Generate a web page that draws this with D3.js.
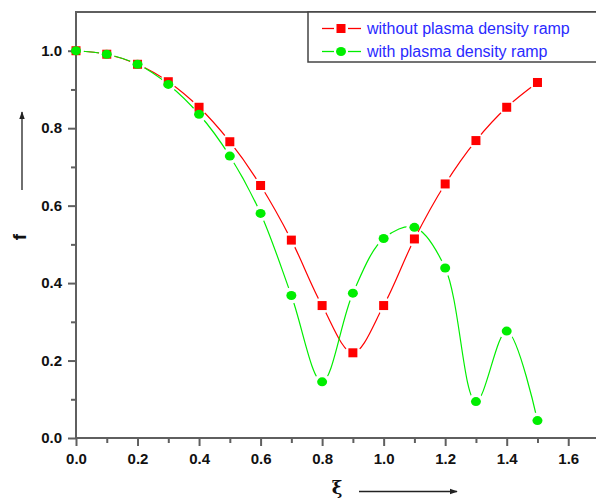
<!DOCTYPE html>
<html>
<head>
<meta charset="utf-8">
<script src="https://cdn.jsdelivr.net/npm/d3@7"></script>
<style>
  body { margin: 0; background: #fff; }
  svg { display: block; }
  text { font-family: 'Liberation Sans', Arial, sans-serif; }
</style>
</head>
<body>
<div id="app"></div>
<script>
'use strict'
// data
const xi = [0.0, 0.1, 0.2, 0.3, 0.4, 0.5, 0.6, 0.7, 0.8, 0.9, 1.0, 1.1, 1.2, 1.3, 1.4, 1.5]
const withoutRamp = [1.0, 0.991, 0.965, 0.92, 0.854, 0.765, 0.652, 0.511, 0.342, 0.220, 0.342, 0.514, 0.656, 0.768, 0.854, 0.918]
const withRamp = [1.0, 0.991, 0.965, 0.913, 0.836, 0.728, 0.580, 0.368, 0.145, 0.374, 0.515, 0.544, 0.439, 0.094, 0.276, 0.045]
const seriesNames = ['without plasma density ramp', 'with plasma density ramp']
const xTicks = [0.0, 0.2, 0.4, 0.6, 0.8, 1.0, 1.2, 1.4, 1.6]
const xMinor = [0.1, 0.3, 0.5, 0.7, 0.9, 1.1, 1.3, 1.5]
const yTicks = [0.0, 0.2, 0.4, 0.6, 0.8, 1.0]
const yMinor = [0.1, 0.3, 0.5, 0.7, 0.9]

const W = 596, H = 499
const margin = { top: 12, left: 76, right: -3, bottom: 61 }
const axisColor = '#5f5f5f'

const svg = d3.select('#app').append('svg')
  .attr('width', W)
  .attr('height', H)

const x = d3.scaleLinear().domain([0, 1.7]).range([margin.left, W - margin.right])
const y = d3.scaleLinear().domain([0, 1.1]).range([H - margin.bottom, margin.top])

// frame
svg.append('rect')
  .attr('x', x(0)).attr('y', y(1.1))
  .attr('width', x(1.7) - x(0)).attr('height', y(0) - y(1.1))
  .attr('fill', 'none').attr('stroke', axisColor).attr('stroke-width', 2)

// axes
const styleAxis = g => {
  g.select('.domain').remove()
  g.selectAll('.tick line').attr('stroke', axisColor).attr('stroke-width', 2)
  g.selectAll('.tick text')
    .attr('fill', '#111')
    .style('font-size', '15px')
    .style('font-weight', 'bold')
}

svg.append('g')
  .attr('transform', `translate(0,${y(0)})`)
  .call(d3.axisBottom(x).tickValues(xTicks).tickSize(8).tickPadding(7).tickFormat(d3.format('.1f')))
  .call(styleAxis)

svg.append('g')
  .attr('transform', `translate(0,${y(0)})`)
  .call(d3.axisBottom(x).tickValues(xMinor).tickSize(5).tickFormat(''))
  .call(styleAxis)

svg.append('g')
  .attr('transform', `translate(${x(0)},0)`)
  .call(d3.axisLeft(y).tickValues(yTicks).tickSize(8).tickPadding(6).tickFormat(d3.format('.1f')))
  .call(styleAxis)

svg.append('g')
  .attr('transform', `translate(${x(0)},0)`)
  .call(d3.axisLeft(y).tickValues(yMinor).tickSize(5).tickFormat(''))
  .call(styleAxis)

// series
const series = [
  { name: seriesNames[0], values: withoutRamp, color: '#ff0000', shape: 'square' },
  { name: seriesNames[1], values: withRamp, color: '#00ee00', shape: 'circle' }
]

const defs = svg.append('defs')
const line = d3.line()
  .x(d => x(d[0]))
  .y(d => y(d[1]))
  .curve(d3.curveCatmullRom.alpha(0.5))

const drawMarker = (g, shape, color, cx, cy) => {
  if (shape === 'square') {
    g.append('rect')
      .attr('x', cx - 4.5).attr('y', cy - 4.5)
      .attr('width', 9).attr('height', 9)
      .attr('fill', color)
  } else {
    g.append('ellipse')
      .attr('cx', cx).attr('cy', cy)
      .attr('rx', 5).attr('ry', 4.5)
      .attr('fill', color)
  }
}

series.forEach((s, i) => {
  const pts = xi.map((v, j) => [v, s.values[j]])
  // Origin style: the line breaks around every symbol
  const mask = defs.append('mask').attr('id', 'gap' + i)
  mask.append('rect').attr('width', W).attr('height', H).attr('fill', '#fff')
  mask.selectAll('circle')
    .data(pts)
    .enter().append('circle')
    .attr('cx', d => x(d[0]))
    .attr('cy', d => y(d[1]))
    .attr('r', 8)
    .attr('fill', '#000')

  svg.append('path')
    .datum(pts)
    .attr('d', line)
    .attr('fill', 'none')
    .attr('stroke', s.color)
    .attr('stroke-width', 1.2)
    .attr('mask', `url(#gap${i})`)
})

series.forEach(s => {
  const g = svg.append('g')
  xi.forEach((v, j) => drawMarker(g, s.shape, s.color, x(v), y(s.values[j])))
})

// legend
const legend = svg.append('g')
legend.append('rect')
  .attr('x', 308).attr('y', 12)
  .attr('width', 300).attr('height', 50)
  .attr('fill', '#fff')
  .attr('stroke', '#444')
  .attr('stroke-width', 1.5)

series.forEach((s, i) => {
  const ly = 28.5 + i * 23
  legend.append('line')
    .attr('x1', 322).attr('x2', 334).attr('y1', ly).attr('y2', ly)
    .attr('stroke', s.color).attr('stroke-width', 1.3)
  legend.append('line')
    .attr('x1', 348).attr('x2', 361).attr('y1', ly).attr('y2', ly)
    .attr('stroke', s.color).attr('stroke-width', 1.3)
  drawMarker(legend, s.shape, s.color, 341, ly)
  legend.append('text')
    .attr('x', 367).attr('y', ly)
    .attr('dy', '0.36em')
    .attr('fill', '#2a2aff')
    .style('font-size', '16px')
    .text(s.name)
})

// axis titles with arrows
defs.append('marker')
  .attr('id', 'arrow')
  .attr('viewBox', '0 0 10 10')
  .attr('refX', 9).attr('refY', 5)
  .attr('markerWidth', 6).attr('markerHeight', 6)
  .attr('orient', 'auto')
  .append('path')
  .attr('d', 'M0,1.5 L10,5 L0,8.5 Z')
  .attr('fill', '#222')

svg.append('text')
  .attr('transform', 'translate(26,237) rotate(-90)')
  .attr('text-anchor', 'middle')
  .attr('fill', '#111')
  .style('font-size', '19px')
  .style('font-weight', 'bold')
  .text('f')

svg.append('line')
  .attr('x1', 22).attr('x2', 22).attr('y1', 190).attr('y2', 112)
  .attr('stroke', '#222').attr('stroke-width', 1.3)
  .attr('marker-end', 'url(#arrow)')

svg.append('text')
  .attr('x', 337).attr('y', 494)
  .attr('text-anchor', 'middle')
  .attr('fill', '#111')
  .style('font-family', "'DejaVu Serif', serif")
  .style('font-size', '18px')
  .style('font-weight', 'bold')
  .text('ξ')

svg.append('line')
  .attr('x1', 359).attr('x2', 457).attr('y1', 491.5).attr('y2', 491.5)
  .attr('stroke', '#222').attr('stroke-width', 1.3)
  .attr('marker-end', 'url(#arrow)')
</script>
</body>
</html>
